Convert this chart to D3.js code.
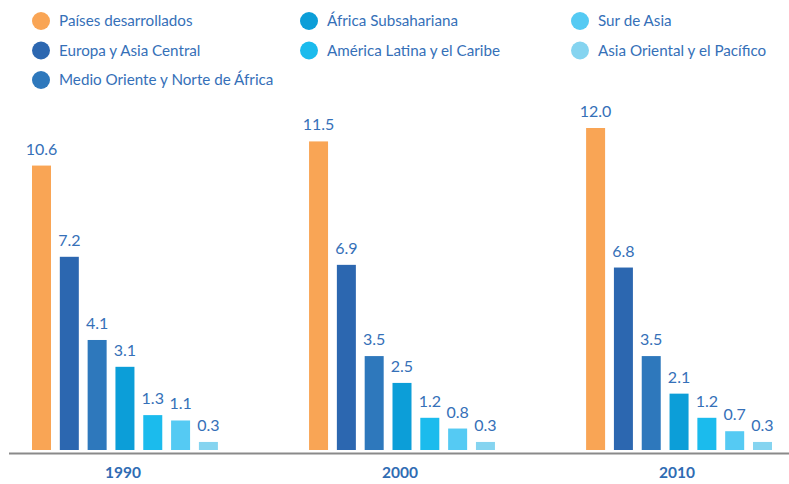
<!DOCTYPE html>
<html>
<head>
<meta charset="utf-8">
<script src="https://cdn.jsdelivr.net/npm/d3@7"></script>
<style>
  body { margin: 0; background: #fff; }
  svg text { font-family: Lato, "Open Sans", sans-serif; }
</style>
</head>
<body>
<svg id="chart" width="789" height="484"></svg>
<script>
// data
var years = ["1990", "2000", "2010"];
var regions = [
  "Países desarrollados",
  "Europa y Asia Central",
  "Medio Oriente y Norte de África",
  "África Subsahariana",
  "América Latina y el Caribe",
  "Sur de Asia",
  "Asia Oriental y el Pacífico"
];
var colors = ["#f9a555", "#2c67b0", "#2e78bc", "#0c9ed8", "#1bbbed", "#55caf3", "#85d4f0"];
var values1990 = [10.6, 7.2, 4.1, 3.1, 1.3, 1.1, 0.3];
var values2000 = [11.5, 6.9, 3.5, 2.5, 1.2, 0.8, 0.3];
var values2010 = [12.0, 6.8, 3.5, 2.1, 1.2, 0.7, 0.3];

var allValues = [values1990, values2000, values2010];

var textColor = "#3570b8",
  axisColor = "#8a8a8a",
  baseY = 450;

var svg = d3.select("#chart");

// scales
var x0 = d3.scaleBand().domain(years).range([32, 772]).paddingInner(0.329);
var x1 = d3.scaleBand().domain(regions).range([0, x0.bandwidth()]).paddingInner(0.317);
var y = d3.scaleLinear().domain([0, 12]).range([baseY, 128]);

// legend - three columns
var legendCols = [
  { x: 41, items: [0, 1, 2] },
  { x: 309, items: [3, 4] },
  { x: 580, items: [5, 6] }
];
var legend = svg.append("g");
legendCols.forEach(function(col) {
  col.items.forEach(function(idx, row) {
    var ly = 21 + row * 29.5;
    legend.append("circle")
      .attr("cx", col.x)
      .attr("cy", ly)
      .attr("r", 9)
      .attr("fill", colors[idx]);
    legend.append("text")
      .attr("x", col.x + 18)
      .attr("y", ly)
      .attr("dy", "0.35em")
      .attr("fill", textColor)
      .attr("font-size", 15.2)
      .text(regions[idx]);
  });
});

// groups of bars
var groups = svg.selectAll("g.year")
  .data(years.map(function(yr, i) { return { year: yr, vals: allValues[i] }; }))
  .enter()
  .append("g")
  .attr("class", "year")
  .attr("transform", function(d) { return "translate(" + x0(d.year) + ",0)"; });

groups.selectAll("rect")
  .data(function(d) { return d.vals.map(function(v, i) { return { region: regions[i], value: v, idx: i }; }); })
  .enter()
  .append("rect")
  .attr("x", function(d) { return x1(d.region); })
  .attr("y", function(d) { return y(d.value); })
  .attr("width", x1.bandwidth())
  .attr("height", function(d) { return baseY - y(d.value); })
  .attr("fill", function(d) { return colors[d.idx]; });

groups.selectAll("text.val")
  .data(function(d) { return d.vals.map(function(v, i) { return { region: regions[i], value: v }; }); })
  .enter()
  .append("text")
  .attr("class", "val")
  .attr("x", function(d) { return x1(d.region) + x1.bandwidth() / 2; })
  .attr("y", function(d) { return y(d.value) - 11; })
  .attr("text-anchor", "middle")
  .attr("fill", textColor)
  .attr("font-size", 16)
  .text(function(d) { return d3.format(".1f")(d.value); });

// axis line
svg.append("line")
  .attr("x1", 9)
  .attr("x2", 789)
  .attr("y1", 453.5)
  .attr("y2", 453.5)
  .attr("stroke", axisColor)
  .attr("stroke-width", 2);

// year labels
svg.selectAll("text.yr")
  .data(years)
  .enter()
  .append("text")
  .attr("class", "yr")
  .attr("x", function(d) { return x0(d) + x0.bandwidth() / 2 - 2; })
  .attr("y", 478)
  .attr("text-anchor", "middle")
  .attr("fill", "#2f6cb3")
  .attr("font-size", 15.5)
  .attr("font-weight", "bold")
  .text(function(d) { return d; });
</script>
</body>
</html>
